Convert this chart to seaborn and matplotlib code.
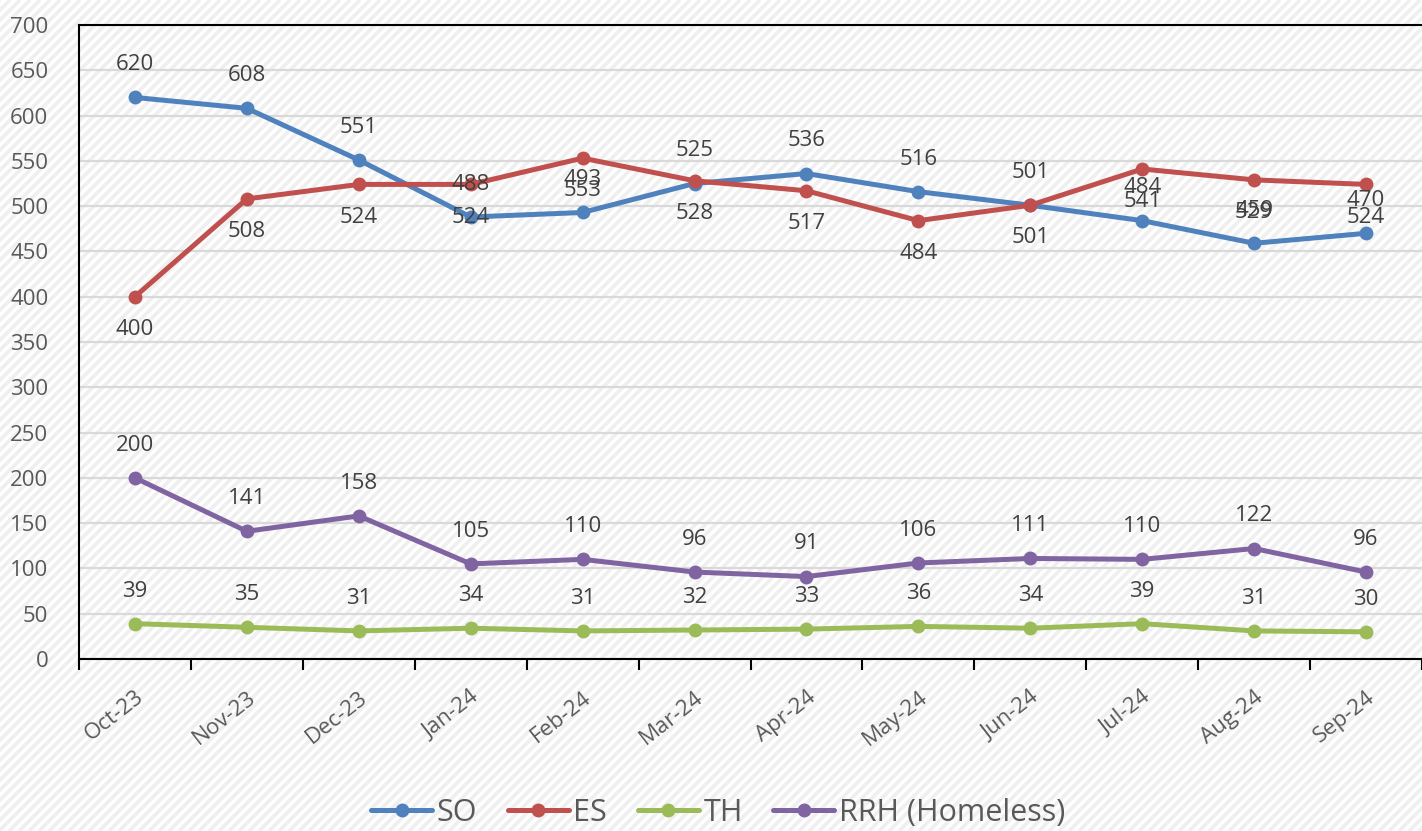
import matplotlib
matplotlib.use("Agg")
import matplotlib.pyplot as plt
import numpy as np
import pandas as pd
import seaborn as sns

MONTHS = ["Oct-23", "Nov-23", "Dec-23", "Jan-24", "Feb-24", "Mar-24",
          "Apr-24", "May-24", "Jun-24", "Jul-24", "Aug-24", "Sep-24"]
SO = [620, 608, 551, 488, 493, 525, 536, 516, 501, 484, 459, 470]
ES = [400, 508, 524, 524, 553, 528, 517, 484, 501, 541, 529, 524]
TH = [39, 35, 31, 34, 31, 32, 33, 36, 34, 39, 31, 30]
RRH = [200, 141, 158, 105, 110, 96, 91, 106, 111, 110, 122, 96]

SERIES = [
    ("SO", SO, "#4F81BD", 1),
    ("ES", ES, "#C0504D", -1),
    ("TH", TH, "#9BBB59", 1),
    ("RRH (Homeless)", RRH, "#8064A2", 1),
]

FONT = "Open Sans"
LABEL_COLOR = "#404040"
TICK_COLOR = "#595959"


def main() -> None:
    sns.set_theme(style="white")
    plt.rcParams["font.family"] = [FONT, "DejaVu Sans"]

    W, H = 1422, 831
    fig = plt.figure(figsize=(W / 100, H / 100), dpi=100)
    fig.patch.set_facecolor("white")

    # striped background
    bg = fig.add_axes([0, 0, 1, 1], zorder=-5)
    bg.set_xlim(0, W)
    bg.set_ylim(0, H)
    bg.axis("off")
    for c in np.arange(-H, W + 10, 10):
        bg.plot([c, c + H], [0, H], color="#efefef", linewidth=2.6,
                solid_capstyle="butt")

    ax = fig.add_axes([79 / W, 1 - 659 / H, 1 - 79 / W, (659 - 25) / H])
    ax.set_facecolor("none")

    x = np.arange(len(MONTHS))

    for i, (name, vals, color, side) in enumerate(SERIES):
        sns.lineplot(x=x, y=vals, ax=ax, color=color, linewidth=3.6,
                     marker="o", markersize=10, markeredgewidth=0,
                     label=name, sort=False, zorder=3 + i)
        for xi, v in zip(x, vals):
            ax.annotate(str(v), (xi, v), xytext=(0, 23.5 * side),
                        textcoords="offset points", ha="center", va="center",
                        fontsize=16, color=LABEL_COLOR, zorder=10)

    ax.set_xlim(-0.5, 11.4)
    ax.set_ylim(0, 700)
    ax.set_yticks(np.arange(0, 701, 50))
    ax.grid(axis="y", color="#d9d9d9", linewidth=1.6)
    ax.set_axisbelow(True)

    ax.set_xticks(x)
    ax.set_xticklabels(MONTHS, rotation=38, ha="right", rotation_mode="anchor")
    ax.set_xticks(np.arange(-0.5, 12, 1), minor=True)
    ax.tick_params(axis="x", which="major", length=0, pad=20,
                   labelsize=16, labelcolor=TICK_COLOR)
    ax.tick_params(axis="x", which="minor", length=8, width=1.5,
                   color="black", direction="out", bottom=True)
    ax.tick_params(axis="y", length=0, pad=22, labelsize=16,
                   labelcolor=TICK_COLOR)
    ax.set_xlabel("")
    ax.set_ylabel("")

    for side in ["left", "top", "bottom"]:
        ax.spines[side].set_visible(True)
        ax.spines[side].set_color("black")
        ax.spines[side].set_linewidth(1.5)
    ax.spines["right"].set_visible(False)

    handles, labels = ax.get_legend_handles_labels()
    fig.legend(handles, labels, loc="center", bbox_to_anchor=(0.505, 1 - 813 / H),
               ncol=4, frameon=False, fontsize=22, handlelength=2.0,
               columnspacing=1.0, handletextpad=0.15, labelcolor=TICK_COLOR)
    if ax.legend_:
        ax.legend_.remove()

    fig.savefig("out.png", dpi=100)
    plt.close(fig)


if __name__ == "__main__":
    main()
